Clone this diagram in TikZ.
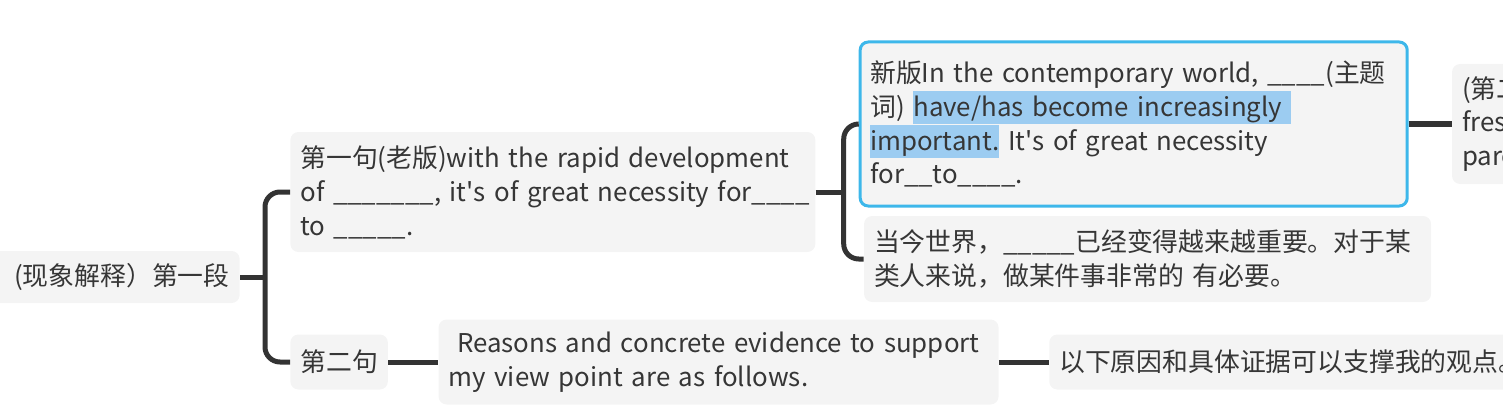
\documentclass[tikz,border=0pt]{standalone}
\usepackage{fontspec}
\setmainfont{Noto Sans CJK SC}
\usetikzlibrary{positioning}

\definecolor{boxgray}{HTML}{F4F4F4}
\definecolor{txtgray}{HTML}{363636}
\definecolor{linegray}{HTML}{333333}
\definecolor{selblue}{HTML}{3DB7EA}
\definecolor{hlblue}{HTML}{9CCCF1}
\newcommand{\hlmark}[1]{{\setlength{\fboxsep}{0pt}\colorbox{hlblue}{\rule[-4.5pt]{0pt}{19pt}#1}}}
\newcommand{\apos}{\textquotesingle}

\begin{document}
\begin{tikzpicture}[
    node distance=1cm,
    box/.style    = {rectangle, rounded corners=0.16cm, fill=boxgray, text=txtgray, align=left, inner xsep=0.2cm, inner ysep=0.2cm, font=\fontsize{14.7pt}{19.3pt}\selectfont},
    chosen/.style = {box, draw=selblue, line width=0.06cm},
    link/.style   = {draw=linegray, line width=0.1cm, rounded corners=0.3cm}
]
\useasboundingbox (0,0) rectangle (30.06,-8.2);
\clip (0,0) rectangle (30.06,-8.2);

% --- Paragraph ---
\node[box, anchor=east, align=right, text width=4.6cm, minimum height=1.04cm] (root) at (4.8,-5.54) {(现象解释）第一段};

% --- Sentences ---
\node[box, right=1cm of root, yshift=1.7cm, text width=10.1cm, minimum height=2.4cm] (s1) {第一句(老版)with the rapid development\\ \mbox{of \_\_\_\_\_\_\_, it\apos s of great necessity for\_\_\_\_}\\ to \_\_\_\_\_.};
\node[box, right=1cm of root, yshift=-1.7cm, minimum height=1.1cm] (s2) {第二句};

% --- Versions of sentence 1 ---
\node[chosen, right=0.86cm of s1, yshift=1.36cm, text width=10.54cm, minimum height=3.28cm] (new) {新版In the contemporary world, \_\_\_\_(主题\\ 词) \hlmark{have/has become increasingly\ }\\ \hlmark{important.} It\apos s of great necessity\\ for\_\_to\_\_\_\_.};
\node[box, right=0.96cm of s1, yshift=-1.34cm, text width=10.94cm, minimum height=1.72cm] (cn1) {当今世界，\_\_\_\_\_已经变得越来越重要。对于某\\ 类人来说，做某件事非常的 有必要。};
\node[box, right=0.86cm of new, text width=3cm, minimum height=2.4cm] (third) {(第二\\ fres\\ pare};

% --- Sentence 2 ---
\node[box, right=1cm of s2, text width=10.8cm, minimum height=1.7cm] (reasons) {\ Reasons and concrete evidence to support\\ my view point are as follows.};
\node[box, right=1cm of reasons, text width=9.5cm, minimum height=1.1cm] (cn2) {以下原因和具体证据可以支撑我的观点。};

% --- Links ---
\draw[link] (root.east) -- ++(0.5,0) coordinate (j1);
\draw[link] (s1.west) -| (j1) |- (s2.west);
\draw[link] (s1.east) -- ++(0.56,0) coordinate (j2);
\draw[link] (new.west) -| (j2) |- (cn1.west);
\draw[link] (new.east) -- (third.west);
\draw[link] (s2) -- (reasons);
\draw[link] (reasons) -- (cn2);

\end{tikzpicture}
\end{document}
